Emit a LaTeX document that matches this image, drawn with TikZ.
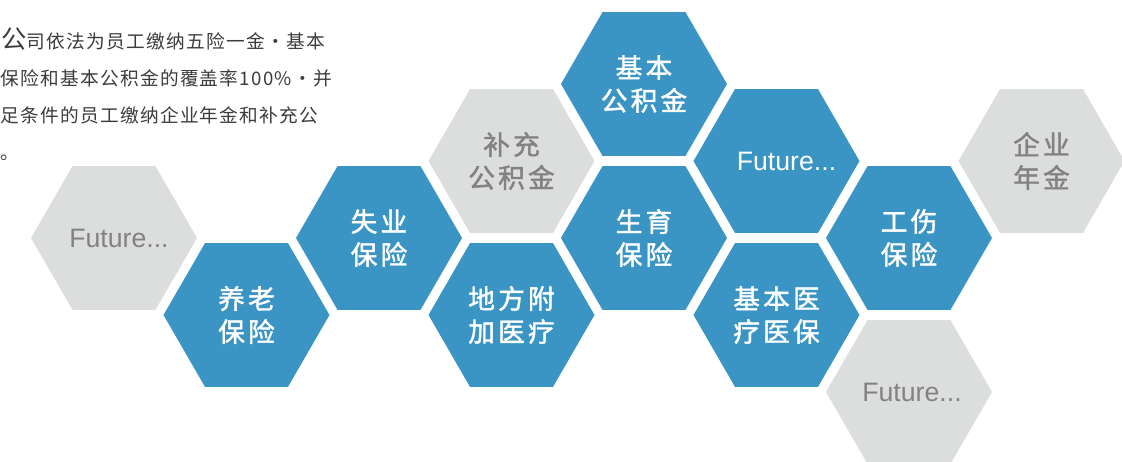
\documentclass[tikz,border=0pt]{standalone}
\usepackage{fontspec}
\setmainfont{Noto Sans CJK SC}
\newfontfamily\bodyfont[LetterSpace=7]{Noto Sans CJK SC}
\newfontfamily\hexfont[LetterSpace=12,FakeBold=1.6]{Noto Sans CJK SC}
\newfontfamily\latinfont{Liberation Sans}
\usetikzlibrary{shapes.geometric}
\definecolor{hexblue}{HTML}{3A94C4}
\definecolor{hexgray}{HTML}{DCDDDD}
\definecolor{graytext}{HTML}{828282}
\definecolor{bodytext}{HTML}{3C3C3C}
\begin{document}
\begin{tikzpicture}[x=0.75pt,y=-0.75pt,
				hex/.style={regular polygon, regular polygon sides=6, minimum size=124.5pt, inner sep=0pt, align=center, font=\hexfont\fontsize{20}{24.75}\selectfont},
				bluehex/.style={hex, fill=hexblue, text=white},
				grayhex/.style={hex, fill=hexgray, text=graytext},
				future/.style={inner sep=0pt, font=\latinfont\fontsize{20}{24}\selectfont},
				textline/.style={anchor=base west, inner sep=0pt, text=bodytext, font=\bodyfont\fontsize{14}{16}\selectfont}
				]
			\useasboundingbox (0,0) rectangle (1122,461);
			\clip (0,0) rectangle (1122,461);
			% text at the top left
			\node [textline] (line1) at (1,48) {{\fontsize{19}{19}\selectfont 公}司依法为员工缴纳五险一金·基本};
			\node [textline] (line2) at (0,85) {保险和基本公积金的覆盖率100\%·并};
			\node [textline] (line3) at (0,122) {足条件的员工缴纳企业年金和补充公};
			\node [textline] (line4) at (0,159) {。};
			% hexagons
			\node [grayhex] (future1) at (114,238) {};
			\node [bluehex] (yanglao) at (246.5,315) {养老\\保险};
			\node [bluehex] (shiye) at (379,238) {失业\\保险};
			\node [grayhex] (buchong) at (511.5,161) {补充\\公积金};
			\node [bluehex] (difang) at (511.5,315) {地方附\\加医疗};
			\node [bluehex] (gongjijin) at (644,84) {基本\\公积金};
			\node [bluehex] (shengyu) at (644,238) {生育\\保险};
			\node [bluehex] (future2) at (776.5,161) {};
			\node [bluehex] (yiliao) at (776.5,315) {基本医\\疗医保};
			\node [bluehex] (gongshang) at (909,238) {工伤\\保险};
			\node [grayhex] (future3) at (909,392) {};
			\node [grayhex] (nianjin) at (1041.5,161) {企业\\年金};
			% labels of the future hexagons
			\node [future, text=graytext] (futuretext1) at ([xshift=3.75pt]future1.center) {Future...};
			\node [future, text=white] (futuretext2) at ([xshift=7.5pt]future2.center) {Future...};
			\node [future, text=graytext] (futuretext3) at ([xshift=2.25pt]future3.center) {Future...};
\end{tikzpicture}
\end{document}
